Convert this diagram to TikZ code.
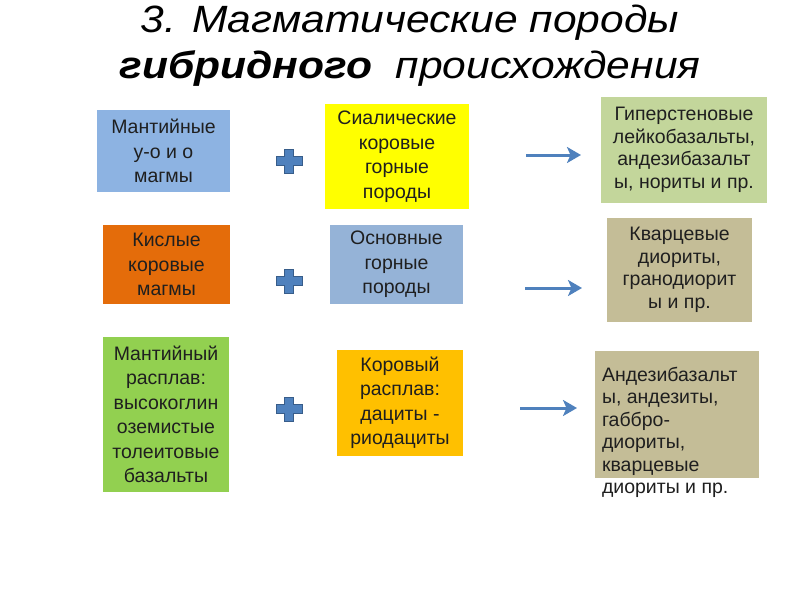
\documentclass[tikz,border=0pt]{standalone}
\usepackage{fontspec}
\setmainfont{Liberation Sans}
\newfontfamily\titlefont[FakeStretch=1.12]{Liberation Sans}
\usepackage{xcolor}
\usetikzlibrary{arrows.meta}

\definecolor{mantleblue}{HTML}{8DB3E2}
\definecolor{sialyellow}{HTML}{FFFF00}
\definecolor{hypergreen}{HTML}{C3D69B}
\definecolor{acidorange}{HTML}{E46C0A}
\definecolor{basicblue}{HTML}{95B3D7}
\definecolor{rocktan}{HTML}{C4BD97}
\definecolor{meltgreen}{HTML}{92D050}
\definecolor{meltamber}{HTML}{FFC000}
\definecolor{plusblue}{HTML}{4F81BD}
\definecolor{plusedge}{HTML}{385D8A}

\begin{document}
\begin{tikzpicture}[x=1pt, y=-1pt,
    rock/.style = {shape=rectangle, align=center, inner sep=0pt,
      text=black!88, font=\fontsize{19.5}{24.5}\selectfont},
    plussign/.pic = {\path[fill=plusblue, draw=plusedge, line width=1pt]
      (-4.5,-12) -- (4.5,-12) -- (4.5,-4.5) -- (13,-4.5) -- (13,4.5)
      -- (4.5,4.5) -- (4.5,12) -- (-4.5,12) -- (-4.5,4.5) -- (-13,4.5)
      -- (-13,-4.5) -- (-4.5,-4.5) -- cycle;},
    mixarrow/.style = {draw=plusblue, line width=3pt,
      -{Stealth[length=14pt,width=16pt,inset=3.5pt]}}]
    \useasboundingbox (0,0) rectangle (800,600);

    \node (title) [anchor=north, align=center, inner sep=0pt,
      font=\titlefont\fontsize{38}{46}\selectfont\itshape] at (410,5)
      {3. Магматические породы\\\textbf{гибридного}\ \ происхождения};

    % first row
    \node (mantle) [rock, fill=mantleblue, minimum width=133pt, minimum height=82pt]
      at (163.5,151) {Мантийные\\у-о и о\\магмы};
    \node (sialic) [rock, fill=sialyellow, minimum width=144pt, minimum height=105pt]
      at (397,156.5) {Сиалические\\коровые\\горные\\породы};
    \node (hypersthene) [rock, fill=hypergreen, minimum width=166pt, minimum height=106pt,
      font=\fontsize{19.5}{22.5}\selectfont]
      at (684,150) {Гиперстеновые\\лейкобазальты,\\андезибазальт\\ы, нориты и пр.};

    % second row
    \node (acid) [rock, fill=acidorange, minimum width=127pt, minimum height=79pt]
      at (166.5,264.5) {Кислые\\коровые\\магмы};
    \node (basic) [rock, fill=basicblue, minimum width=133pt, minimum height=79pt]
      at (396.5,264.5) {Основные\\горные\\породы};
    \node (quartz) [rock, fill=rocktan, minimum width=145pt, minimum height=104pt,
      font=\fontsize{19.5}{22.5}\selectfont]
      at (679.5,270) {Кварцевые\\диориты,\\гранодиорит\\ы и пр.};

    % third row
    \node (meltmantle) [rock, fill=meltgreen, minimum width=126pt, minimum height=155pt]
      at (166,414.5) {Мантийный\\расплав:\\высокоглин\\оземистые\\толеитовые\\базальты};
    \node (meltcrust) [rock, fill=meltamber, minimum width=126pt, minimum height=106pt]
      at (400,403) {Коровый\\расплав:\\дациты -\\риодациты};
    \node (andesite) [rock, fill=rocktan, minimum width=164pt, minimum height=127pt]
      at (677,414.5) {};
    \node (andesitetext) [rock, align=left, anchor=north west,
      font=\fontsize{19.5}{22.5}\selectfont]
      at ([xshift=7pt, yshift=-16pt]andesite.north west)
      {Андезибазальт\\ы, андезиты,\\габбро-\\диориты,\\кварцевые\\диориты и пр.};

    % plus signs and arrows
    \pic (plus1) at (289,161) {plussign};
    \pic (plus2) at (289,281) {plussign};
    \pic (plus3) at (289,409) {plussign};
    \coordinate (arrow1start) at (526,155);
    \coordinate (arrow1end) at (581,155);
    \coordinate (arrow2start) at (525,288);
    \coordinate (arrow2end) at (582,288);
    \coordinate (arrow3start) at (520,408);
    \coordinate (arrow3end) at (577,408);
    \draw[mixarrow] (arrow1start) -- (arrow1end);
    \draw[mixarrow] (arrow2start) -- (arrow2end);
    \draw[mixarrow] (arrow3start) -- (arrow3end);
\end{tikzpicture}
\end{document}
